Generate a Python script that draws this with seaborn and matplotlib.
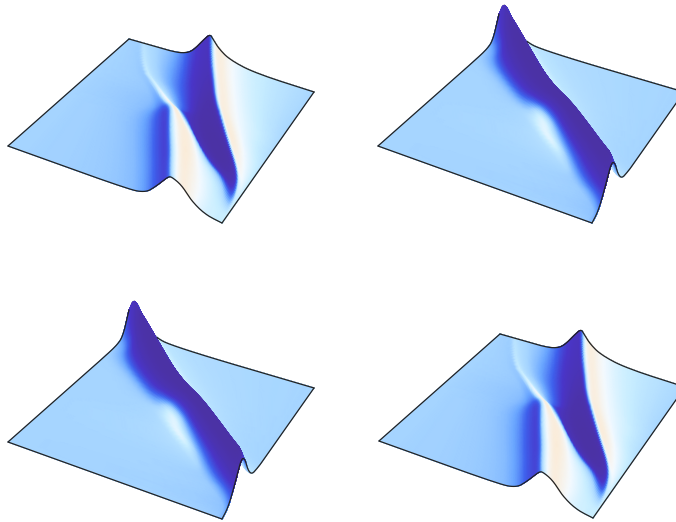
import numpy as np
import seaborn as sns
import matplotlib.pyplot as plt

sns.set_theme(style="white")

# --- surface data ---
# depth = position from the front edge (0) to the back edge (1)
# across = position along each row, height = lift, shade = colour scale position

# two crossing ridges (top left and bottom right panels)
cross_depth = [1, 0.8, 0.7, 0.6, 0.5, 0.4, 0.25, 0.17, 0.08, 0]
cross_across = [
    [0, .027, .043, .054, .065, .076, .086, .114, .141, .168, .222, .286, .341, .405, .438, .454, .486, .546, .681, 1],
    [0, .147, .168, .183, .194, .204, .215, .230, .251, .288, .340, .403, .461, .518, .555, .571, .602, .665, .791, 1],
    [0, .275, .295, .306, .316, .326, .337, .352, .373, .409, .440, .482, .528, .580, .619, .632, .663, .725, .850, 1],
    [0, .352, .383, .403, .418, .431, .444, .459, .480, .505, .536, .566, .602, .643, .679, .694, .724, .786, .913, 1],
    [0, .285, .385, .44, .50, .52, .535, .55, .565, .58, .595, .62, .66, .71, .755, .77, .80, .86, .935, 1],
    [0, .34, .44, .495, .552, .571, .601, .635, .655, .670, .680, .709, .749, .798, .837, .852, .877, .926, .970, 1],
    [0, .42, .517, .57, .628, .647, .696, .734, .773, .807, .821, .841, .879, .928, .961, .971, .981, .990, .995, 1],
    [0, .464, .56, .612, .670, .689, .737, .775, .823, .880, .928, .947, .962, .976, .990, .993, .995, .997, .9986, 1],
    [0, .507, .602, .654, .711, .730, .777, .825, .877, .919, .957, .976, .986, .991, .993, .995, .9968, .9976, .999, 1],
    [0, .547, .64, .692, .748, .766, .813, .850, .893, .930, .953, .967, .977, .984, .988, .991, .993, .995, .998, 1],
]
cross_height = [
    [0, 0, 0, 0, 0, 0, 0, 0, 0, 0, 0, 1, 5.5, 21, 28, 24, 16, 8, 2, 0],
    [0, 0, .5, 1, 1.5, 2, 2, 1.5, 1, .5, .5, 2, 6, 18, 28, 25, 18, 9, 2, 0],
    [0, 0, .5, 1.5, 3, 4, 4, 3, 2, 1, 1, 3, 8, 19, 28, 26, 19, 10, 2.5, 0],
    [0, 0, 1, 3, 6, 8.5, 8.5, 7, 5, 4, 4, 5, 9, 19, 28, 26, 19, 10, 3, 0],
    [0, 0, 2, 7, 18, 20, 19, 18, 17, 16.5, 16.5, 16.5, 17, 22, 28, 27, 20, 11, 5, 0],
    [0, 0, 2, 8, 22, 25, 22, 18, 17.6, 15.6, 13.7, 15, 18, 20, 23, 22, 17, 9, 3, 0],
    [0, 0, 2, 9, 26, 28, 25, 22.6, 20.3, 18.3, 17.3, 16.7, 16.4, 16.9, 17.3, 15, 10, 6, 3, 0],
    [0, 0, 2, 10, 26, 28, 24.7, 22.5, 20, 17.6, 15.3, 14, 12, 10, 10, 6, 4, 2.5, 1, 0],
    [0, 0, 2, 11, 27, 28, 24, 16, 11, 7.5, 4.5, 3, 2.5, 2, 1.5, 1, .7, .4, .2, 0],
    [0, 0, 2.5, 13, 27, 28, 23, 13, 6, 2.6, 1.5, 1, .7, .5, .4, .3, .2, .1, .05, 0],
]
cross_shade = [
    [4, 3.9, 3.9, 3.9, 4.2, 4.6, 4.5, 4.2, 4.1, 3.9, 3.6, 2.6, 1.4, .8, .8, 6, 7, 6, 5, 4.1],
    [4, 3.9, 3.8, 3.8, 3.9, 4.6, 4.9, 4.5, 4.2, 3.8, 3, 2, .9, .6, .6, 5.5, 7, 6, 5, 4.1],
    [4, 3.8, 3.7, 3.6, 3.7, 5, 5.6, 4.8, 4.3, 3.6, 2.6, 1.6, .8, .4, .5, 5.5, 7, 6, 5, 4.1],
    [4, 3.6, 3.2, 2.8, 3, 5.5, 6.5, 5.5, 4.3, 2.6, 1.8, 1, .3, .1, .3, 6, 7, 6, 5, 4.3],
    [4, 3.8, 3.2, 2, 1, 5.5, 7, 6.5, 3, 1.2, .7, .5, .1, .1, .3, 6.5, 7, 6, 5, 4.4],
    [4, 3.8, 3, 1.8, 1, 5.2, 6.5, 7, 6.5, 4, .8, .2, 0, 0, .3, 6.5, 7, 6, 5.3, 4.8],
    [4, 3.8, 3, 1.8, 1, 5.2, 7, 6.8, 5.8, 4, 1.5, .4, 0, 0, .4, 5.5, 6, 6, 5.5, 5],
    [4, 3.8, 3, 1.8, 1, 5.2, 7, 6.7, 5.8, 5.2, 4, 2, .8, .6, 1.5, 5, 5, 5, 5, 5],
    [4, 3.8, 3, 1.8, 1.1, 5.2, 7, 6.4, 5.8, 5.2, 5, 5, 5, 5, 5, 5, 5, 5, 5, 5],
    [4, 3.8, 3, 1.8, 1.1, 5.2, 7, 6.4, 5.6, 5.2, 5.2, 5, 5, 5, 5, 5, 5, 5, 5, 5],
]

# single tall ridge (top right and bottom left panels)
tall_depth = [1, 0.95, 0.9, 0.8, 0.7, 0.6, 0.5, 0.4, 0.3, 0.23, 0.15, 0.07, 0]
tall_across = [
    [0, .004, .008, .012, .015, .018, .024, .03, .05, .075, .13, .238, 1],
    [0, .008, .016, .03, .045, .06, .075, .086, .102, .134, .193, .30, 1],
    [0, .02, .04, .06, .085, .105, .13, .149, .165, .197, .255, .362, 1],
    [0, .026, .079, .11, .141, .183, .236, .276, .293, .325, .382, .487, 1],
    [0, .155, .207, .238, .269, .311, .363, .403, .420, .451, .508, .611, 1],
    [0, .286, .337, .367, .398, .439, .49, .53, .546, .577, .633, .735, 1],
    [0, .415, .465, .495, .525, .565, .615, .657, .67, .70, .755, .855, 1],
    [0, .547, .596, .626, .655, .695, .744, .784, .798, .828, .882, .956, 1],
    [0, .68, .728, .757, .786, .825, .874, .913, .927, .956, .985, .995, 1],
    [0, .773, .816, .845, .874, .913, .961, 1, 1, 1, 1, 1, 1],
    [0, .876, .924, .952, .981, 1, 1, 1, 1, 1, 1, 1, 1],
    [0, .981, 1, 1, 1, 1, 1, 1, 1, 1, 1, 1, 1],
    [0, .96, 1, 1, 1, 1, 1, 1, 1, 1, 1, 1, 1],
]
tall_height = [
    [25, 26, 28, 30, 32, 33, 34.5, 35.5, 32, 21, 6, 1, 0],
    [4, 5, 7, 10, 15, 22, 30, 36, 31, 21, 5, 1, 0],
    [.5, 1, 2.5, 5, 11, 19, 30, 36, 31, 21, 5, 1, 0],
    [0, 0, 1.2, 3.4, 8, 17, 27, 32, 28, 18, 5, 1, 0],
    [0, 0, 1, 3, 6.5, 14, 23, 27, 24, 16, 4, 1, 0],
    [0, 0, 1, 3, 7, 15, 25, 29, 26, 17, 4, 1, 0],
    [0, 0, 1.4, 3.9, 9, 19, 31, 36, 32, 21, 5, 1, 0],
    [0, 0, 1.4, 4, 9, 20, 32, 37, 33, 22, 5, 1, 0],
    [0, 0, 1.4, 4, 9, 19, 31, 36, 32, 21, 6, 3, 3],
    [0, 0, 1.4, 4, 9, 20, 32, 37, 37, 37, 37, 37, 37],
    [0, 0, 1.4, 4, 9, 19, 19, 19, 19, 19, 19, 19, 19],
    [0, 0, 3, 3, 3, 3, 3, 3, 3, 3, 3, 3, 3],
    [0, 0, 0, 0, 0, 0, 0, 0, 0, 0, 0, 0, 0],
]
tall_shade = [
    [1, 1, .9, .9, .8, .8, .8, .6, 2, 5.3, 5.2, 4.3, 4],
    [3, 2.5, 2, 1.5, 1, .6, .3, .2, 2, 5.3, 5.2, 4.3, 4],
    [3.8, 3.5, 3, 2.2, 1.2, .4, .1, .1, 1.5, 5.3, 5.2, 4.3, 4],
    [4, 3.9, 3.3, 2.3, 1.2, .4, 0, 0, 1, 5.3, 5.2, 4.3, 4],
    [4, 4, 3.4, 2.3, 1.2, .3, 0, 0, 1, 5.3, 5.2, 4.3, 4],
    [4, 4, 3.6, 2.8, 1.6, .4, 0, 0, 1, 5, 5, 4.2, 4],
    [4, 4, 4.6, 5.4, 6.5, 1.2, 0, 0, 1, 4.5, 4.6, 4.1, 4],
    [4, 4.2, 5, 6.2, 3.5, .6, 0, 0, 1, 4.5, 4.6, 4.2, 4],
    [4, 4.1, 4.6, 3.6, 2, .5, 0, 0, 1, 4.5, 5, 5, 5],
    [4, 4, 3.6, 2.6, 1.4, .4, 0, 0, .2, .4, .5, .7, 1],
    [4, 4, 3.5, 2.5, 1.3, .5, .5, .5, .5, .5, .5, .5, .5],
    [4, 3.9, 3, 3, 3, 3, 3, 3, 3, 3, 3, 3, 3],
    [4, 4, 3.5, 3.5, 3.5, 3.5, 3.5, 3.5, 3.5, 3.5, 3.5, 3.5, 3.5],
]

# plane corners of each panel: left, back, right, front
corners_top_left = [(8, 146), (129, 39), (314, 92), (222, 223)]
corners_top_right = [(378, 146), (499, 39), (684, 92), (592, 223)]
corners_bottom_left = [(8, 442), (129, 335), (314, 388), (222, 519)]
corners_bottom_right = [(379, 441), (500, 334), (685, 387), (593, 518)]

# the ridge hides this much of the back edge
cross_hidden = 0
tall_hidden = 0.15

shade_colors = ["#4B32A5", "#4A35C8", "#3F62EE", "#6AA6FF",
                "#A6D5FF", "#C9EEFF", "#F5FAFF", "#FBEBD6"]
cmap = sns.blend_palette(shade_colors, as_cmap=True)


def round_off(a, axis, passes):
    # corner cutting so the mesh does not show facets, end rows stay where they are
    a = np.moveaxis(a, axis, 0)
    for _ in range(passes):
        q = 0.75 * a[:-1] + 0.25 * a[1:]
        r = 0.25 * a[:-1] + 0.75 * a[1:]
        mid = np.empty((2 * len(q),) + a.shape[1:])
        mid[0::2] = q
        mid[1::2] = r
        a = np.concatenate([a[:1], mid, a[-1:]])
    return np.moveaxis(a, 0, axis)


def draw_surface(ax, corners, depth, across, height, shade, hidden):
    left, back, right, front = [np.array(c, dtype=float) for c in corners]
    s = np.array(across, dtype=float)
    v = np.tile(np.array(depth, dtype=float)[:, None], (1, s.shape[1]))
    h = np.array(height, dtype=float)
    c = np.array(shade, dtype=float)
    s, v, h, c = [round_off(round_off(a, 0, 4), 1, 3) for a in (s, v, h, c)]

    start_x = left[0] + v * (back[0] - left[0])
    start_y = left[1] + v * (back[1] - left[1])
    end_x = front[0] + v * (right[0] - front[0])
    end_y = front[1] + v * (right[1] - front[1])
    x = start_x + s * (end_x - start_x)
    y = start_y + s * (end_y - start_y) - h

    # rows go back to front so nearer rows paint over farther ones
    ax.plot(x[0], y[0], color="#222222", lw=0.9, zorder=1)
    ax.pcolormesh(x, y, c, shading="gouraud", cmap=cmap, vmin=0, vmax=7, zorder=2)
    shown = s[0] >= hidden
    ax.plot(x[0][shown], y[0][shown], color="#222222", lw=0.9, zorder=3)
    for xs, ys in [(x[-1], y[-1]), (x[:, 0], y[:, 0]), (x[:, -1], y[:, -1])]:
        ax.plot(xs, ys, color="#222222", lw=0.9, zorder=3)


fig = plt.figure(figsize=(6.76, 5.22), dpi=100)
ax = fig.add_axes([0, 0, 1, 1])

draw_surface(ax, corners_top_left, cross_depth, cross_across, cross_height, cross_shade, cross_hidden)
draw_surface(ax, corners_top_right, tall_depth, tall_across, tall_height, tall_shade, tall_hidden)
draw_surface(ax, corners_bottom_left, tall_depth, tall_across, tall_height, tall_shade, tall_hidden)
draw_surface(ax, corners_bottom_right, cross_depth, cross_across, cross_height, cross_shade, cross_hidden)

ax.set_xlim(0, 676)
ax.set_ylim(522, 0)
ax.axis("off")

plt.savefig("out.png", dpi=100)
